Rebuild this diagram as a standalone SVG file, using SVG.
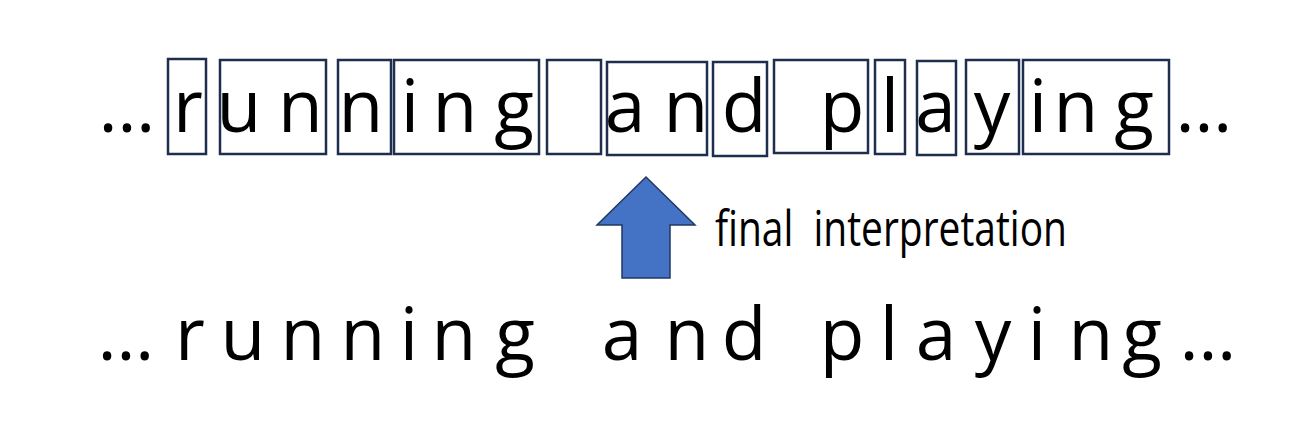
<svg xmlns="http://www.w3.org/2000/svg" width="1312" height="424" viewBox="0 0 1312 424">
  <style>
    .bg { fill: #ffffff; }
    .box { fill: none; stroke: #1f2d4e; stroke-width: 2.5; }
    .ch { font-family: "Open Sans", "Noto Sans", sans-serif; font-size: 73px; fill: #000000; text-anchor: middle; }
    .lbl { font-family: "Open Sans", "Noto Sans", sans-serif; font-size: 49px; fill: #000000; white-space: pre; }
    .arrow { fill: #4472c4; stroke: #1f3864; stroke-width: 1.5; stroke-linejoin: miter; }
  </style>
  <rect class="bg" x="0" y="0" width="1312" height="424"/>

  <!-- top row: segmented -->
  <text id="top-ellipsis-left" class="ch" x="127" y="132">…</text>
  <g id="seg-r"><rect class="box" x="168" y="59" width="38" height="95"/><text class="ch" x="188" y="132">r</text></g>
  <g id="seg-un"><rect class="box" x="220" y="60" width="106" height="94"/><text class="ch" y="132"><tspan x="239">u</tspan><tspan x="300.5">n</tspan></text></g>
  <g id="seg-n"><rect class="box" x="338" y="60" width="53" height="94"/><text class="ch" x="361" y="132">n</text></g>
  <g id="seg-ing1"><rect class="box" x="394" y="60" width="145" height="94"/><text class="ch" y="132"><tspan x="410">i</tspan><tspan x="455">n</tspan><tspan x="514">g</tspan></text></g>
  <g id="seg-space"><rect class="box" x="547" y="60" width="54" height="94"/></g>
  <g id="seg-an"><rect class="box" x="607" y="62" width="100" height="93"/><text class="ch" y="132"><tspan x="625">a</tspan><tspan x="686">n</tspan></text></g>
  <g id="seg-d"><rect class="box" x="713" y="62" width="54" height="94"/><text class="ch" x="744" y="132">d</text></g>
  <g id="seg-p"><rect class="box" x="774" y="60" width="94" height="93"/><text class="ch" x="842" y="132">p</text></g>
  <g id="seg-l"><rect class="box" x="875" y="60" width="30" height="94"/><text class="ch" x="890" y="132">l</text></g>
  <g id="seg-a"><rect class="box" x="917" y="61" width="39" height="94"/><text class="ch" x="935.5" y="132">a</text></g>
  <g id="seg-y"><rect class="box" x="966" y="60" width="53" height="94"/><text class="ch" x="992" y="132">y</text></g>
  <g id="seg-ing2"><rect class="box" x="1023" y="60" width="146" height="94"/><text class="ch" y="132"><tspan x="1038">i</tspan><tspan x="1076">n</tspan><tspan x="1134">g</tspan></text></g>
  <text id="top-ellipsis-right" class="ch" x="1204" y="132">…</text>

  <!-- connector: block arrow -->
  <g id="connectors">
    <polygon class="arrow" points="646,177 695,225 670,225 670,278 622,278 622,225 597,225"/>
  </g>
  <g id="label">
    <text class="lbl" x="715" y="246" textLength="352" lengthAdjust="spacingAndGlyphs">final  interpretation</text>
  </g>

  <!-- bottom row: final reading -->
  <g id="reading">
    <text class="ch" y="360" x="126 190 243 303 363 409 454 515 570 622 687 744 793 842 889 936 993 1037 1091 1142 1208">…running and playing…</text>
  </g>
</svg>
